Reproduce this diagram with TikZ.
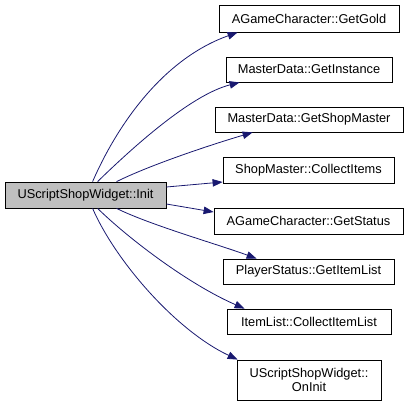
\documentclass[tikz,border=0pt]{standalone}
\usepackage{fontspec}
\setmainfont{Liberation Sans}
\usetikzlibrary{arrows.meta}
\definecolor{edgeblue}{HTML}{191970}
\definecolor{srcgrey}{HTML}{BFBFBF}
\tikzset{
  box/.style={draw=black, line width=0.8pt, fill=white, inner sep=0pt, align=center,
    font=\fontsize{12.8}{14.5}\selectfont},
  srcbox/.style={box, fill=srcgrey},
  link/.style={draw=edgeblue, line width=0.8pt, -{Triangle[length=10pt,width=7.5pt]}}
}
\begin{document}
\begin{tikzpicture}[x=1pt,y=-1pt]
\useasboundingbox (0,0) rectangle (409,407);
\node[srcbox, minimum width=161pt, minimum height=26pt] (src) at (85.5,195) {UScriptShopWidget::Init};
\node[box, minimum width=180pt, minimum height=27pt] (gold) at (309,18.5) {AGameCharacter::GetGold};
\node[box, minimum width=166pt, minimum height=25pt] (inst) at (309,69.5) {MasterData::GetInstance};
\node[box, minimum width=188pt, minimum height=25pt] (shop) at (309,119.5) {MasterData::GetShopMaster};
\node[box, minimum width=171pt, minimum height=26pt] (coll) at (308.5,170) {ShopMaster::CollectItems};
\node[box, minimum width=189pt, minimum height=26pt] (stat) at (308.5,221) {AGameCharacter::GetStatus};
\node[box, minimum width=171pt, minimum height=25pt] (list) at (308.5,271.5) {PlayerStatus::GetItemList};
\node[box, minimum width=164pt, minimum height=25pt] (cil) at (309,321.5) {ItemList::CollectItemList};
\node[box, minimum width=144pt, minimum height=40pt] (oninit) at (309,380) {UScriptShopWidget::\\OnInit};

\draw[link] ([xshift=88pt]src.north west) .. controls (115,130) and (160,60) .. ([xshift=19pt]gold.south west);
\draw[link] ([xshift=93pt]src.north west) .. controls (130,150) and (190,95) .. ([xshift=14pt]inst.south west);
\draw[link] ([xshift=112pt]src.north west) .. controls (150,165) and (210,145) .. ([xshift=38pt]shop.south west);
\draw[link] ([yshift=8pt]src.east) -- ([yshift=-12pt]coll.west);
\draw[link] ([yshift=-9pt]src.east) -- ([yshift=9pt]stat.west);
\draw[link] ([xshift=112pt]src.south west) .. controls (150,225) and (220,245) .. ([xshift=34pt]list.north west);
\draw[link] ([xshift=93pt]src.south west) .. controls (130,240) and (190,285) .. ([xshift=18pt]cil.north west);
\draw[link] ([xshift=88pt]src.south west) .. controls (115,260) and (175,330) .. ([xshift=1pt]oninit.north west);
\end{tikzpicture}
\end{document}
